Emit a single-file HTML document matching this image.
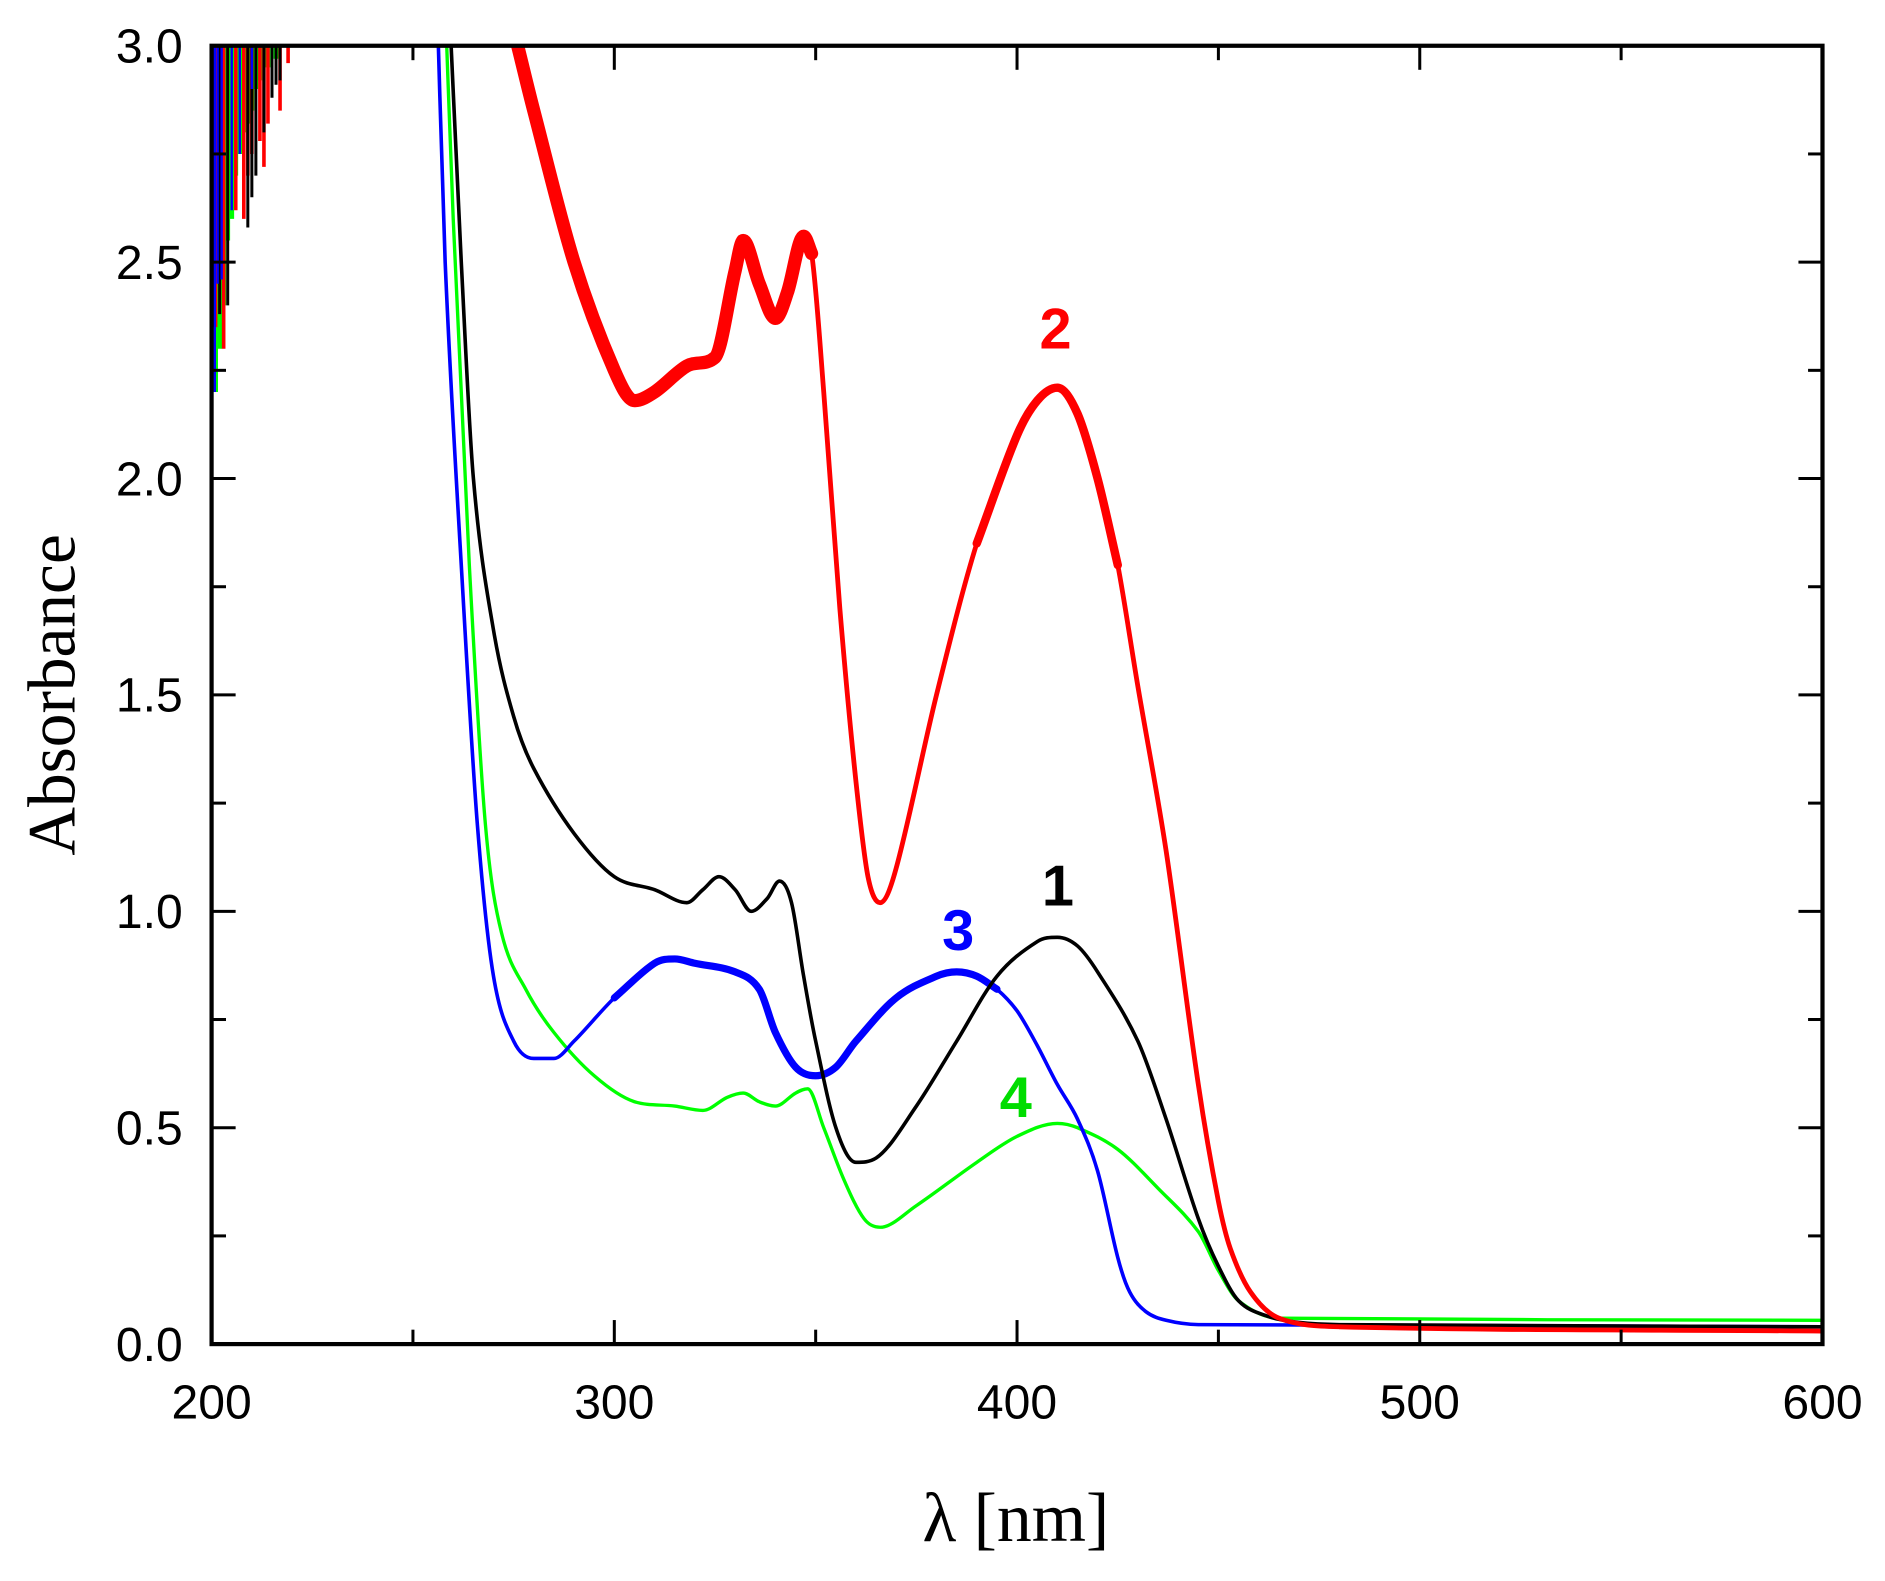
<!DOCTYPE html>
<html><head><meta charset="utf-8"><style>
html,body{margin:0;padding:0;background:#fff;}
svg{display:block;}
</style></head><body>
<svg id="chart" width="1885" height="1581" viewBox="0 0 1568 1315" xmlns="http://www.w3.org/2000/svg">
<defs><clipPath id="pc"><rect x="176" y="38" width="1340" height="1080"/></clipPath></defs>
<g id="series" clip-path="url(#pc)"></g>
<g id="axes"></g>
<text transform="translate(62,578) rotate(-90)" text-anchor="middle" font-family="Liberation Serif, serif" font-size="56">Absorbance</text>
<text x="845" y="1282" text-anchor="middle" font-family="Liberation Serif, serif" font-size="58">λ [nm]</text>
<text x="878" y="290" text-anchor="middle" font-family="Liberation Sans, sans-serif" font-weight="bold" font-size="48" fill="#ff0000">2</text>
<text x="880" y="753" text-anchor="middle" font-family="Liberation Sans, sans-serif" font-weight="bold" font-size="48" fill="#000">1</text>
<text x="797" y="790" text-anchor="middle" font-family="Liberation Sans, sans-serif" font-weight="bold" font-size="48" fill="#0000ff">3</text>
<text x="845" y="929" text-anchor="middle" font-family="Liberation Sans, sans-serif" font-weight="bold" font-size="48" fill="#00dd00">4</text>
</svg>
<script>
const xTicks=[200,300,400,500,600];
const yTicks=[0.0,0.5,1.0,1.5,2.0,2.5,3.0];
const yTickLabels=["0.0","0.5","1.0","1.5","2.0","2.5","3.0"];
const redX=[276,280,290,300,305,310,318,325,330,332,336,340,343,347,349,352,356,360,363,366,370,380,390,400,405,410,415,420,425,430,437,445,450,453,458,465,480,600];
const redY=[3.0,2.85,2.5,2.25,2.18,2.2,2.26,2.28,2.48,2.55,2.45,2.37,2.43,2.56,2.52,2.2,1.7,1.3,1.08,1.02,1.1,1.5,1.85,2.1,2.18,2.21,2.15,2.0,1.8,1.52,1.14,0.6,0.33,0.22,0.12,0.06,0.04,0.03];
const blackX=[259,262,265,270,275,280,290,300,310,318,322,326,330,334,338,341,344,347,350,355,360,365,375,385,395,405,410,415,420,430,437,445,450,455,462,470,480,600];
const blackY=[3.1,2.5,2.0,1.65,1.45,1.33,1.18,1.08,1.05,1.02,1.05,1.08,1.05,1.0,1.03,1.07,1.02,0.85,0.7,0.5,0.42,0.43,0.55,0.7,0.85,0.93,0.94,0.92,0.86,0.7,0.52,0.29,0.18,0.1,0.065,0.05,0.045,0.04];
const blueX=[256,258,262,266,270,275,280,285,290,300,310,315,320,330,336,340,345,350,355,360,370,380,385,390,395,400,405,410,415,420,425,428,432,437,445,600];
const blueY=[3.1,2.5,1.8,1.2,0.85,0.7,0.66,0.66,0.7,0.8,0.88,0.89,0.88,0.86,0.82,0.72,0.64,0.62,0.64,0.7,0.8,0.85,0.86,0.85,0.82,0.77,0.69,0.6,0.52,0.4,0.2,0.12,0.075,0.055,0.045,0.04];
const greenX=[258,260,264,268,272,278,285,295,305,315,322,328,332,336,340,345,348,352,357,362,366,375,390,400,410,415,425,435,445,450,455,465,600];
const greenY=[3.1,2.6,1.8,1.2,0.95,0.82,0.72,0.62,0.56,0.55,0.54,0.57,0.58,0.56,0.55,0.58,0.59,0.5,0.38,0.29,0.27,0.32,0.42,0.48,0.51,0.5,0.45,0.36,0.26,0.17,0.1,0.06,0.055];
// noise spikes near 200 nm: wavelength and lowest absorbance reached
const noiseGreenX=[201,202,203,204,205,206,207,208,209,210,211,212,214,216];
const noiseGreenY=[2.2,2.3,2.4,2.55,2.6,2.7,2.75,2.8,2.82,2.85,2.9,2.92,2.95,2.97];
const noiseRedX=[201,203,206,208,209,210,212,213,214,217,219];
const noiseRedY=[2.35,2.3,2.62,2.6,2.7,2.75,2.78,2.72,2.82,2.85,2.96];
const noiseBlackX=[200.5,202,204,209,210,211,213,215,216,217];
const noiseBlackY=[2.35,2.38,2.4,2.58,2.65,2.7,2.8,2.88,2.91,2.92];
const noiseBlueX=[200.8,201.5,202.5,205,207,210];
const noiseBlueY=[2.2,2.45,2.46,2.62,2.75,2.9];

const X=v=>176+(v-200)*1340/400;
const Y=v=>1118-v*360;
const NS="http://www.w3.org/2000/svg";
const sg=document.getElementById('series');
const ax=document.getElementById('axes');
function mk(tag,attrs,parent){const e=document.createElementNS(NS,tag);for(const k in attrs)e.setAttribute(k,attrs[k]);parent.appendChild(e);return e;}
function line(xs,ys,color,w,name,from,to){
  const pts=[];
  for(let i=0;i<xs.length;i++){if(from!==undefined&&(xs[i]<from||xs[i]>to))continue;pts.push([X(xs[i]),Y(ys[i])]);}
  const n=pts.length, m=[];
  for(let i=0;i<n;i++){
    const a=pts[Math.max(0,i-1)], b=pts[Math.min(n-1,i+1)];
    let s=(b[1]-a[1])/(b[0]-a[0]);
    // limit slope to avoid overshoot at local extrema
    if(i>0&&i<n-1){
      const s1=(pts[i][1]-pts[i-1][1])/(pts[i][0]-pts[i-1][0]);
      const s2=(pts[i+1][1]-pts[i][1])/(pts[i+1][0]-pts[i][0]);
      if(s1*s2<=0) s=0; else { const lim=3*Math.min(Math.abs(s1),Math.abs(s2)); if(Math.abs(s)>lim) s=Math.sign(s)*lim; }
    }
    m.push(s);
  }
  let d='M'+pts[0][0].toFixed(1)+','+pts[0][1].toFixed(1);
  for(let i=0;i<n-1;i++){
    const p1=pts[i],p2=pts[i+1],dx=(p2[0]-p1[0])/3;
    d+='C'+(p1[0]+dx).toFixed(1)+','+(p1[1]+m[i]*dx).toFixed(1)+' '+(p2[0]-dx).toFixed(1)+','+(p2[1]-m[i+1]*dx).toFixed(1)+' '+p2[0].toFixed(1)+','+p2[1].toFixed(1);
  }
  const p=mk('path',{d:d,fill:'none',stroke:color,'stroke-width':w,'stroke-linejoin':'round','stroke-linecap':'round'},sg);
  
  
}
function spikes(xs,ys,color,w,name){
  for(let i=0;i<xs.length;i++){
    const l=mk('line',{x1:X(xs[i]),x2:X(xs[i]),y1:Y(3),y2:Y(ys[i]),stroke:color,'stroke-width':w},sg);
    
    
  }
}
spikes(noiseGreenX,noiseGreenY,'#00ff00',4,'noise-spike-green');
spikes(noiseRedX,noiseRedY,'#ff0000',3,'noise-spike-red');
spikes(noiseBlackX,noiseBlackY,'#000',2.5,'noise-spike-black');
spikes(noiseBlueX,noiseBlueY,'#0000ff',2,'noise-spike-blue');
line(greenX,greenY,'#00ff00',2.8,'series-4-green');
line(blueX,blueY,'#0000ff',3,'series-3-blue');
line(blueX,blueY,'#0000ff',6,'series-3-blue-noisy',295,395);
line(blackX,blackY,'#000',3,'series-1-black');
line(redX,redY,'#ff0000',4,'series-2-red');
line(redX,redY,'#ff0000',11,'series-2-red-noisy',276,349);
line(redX,redY,'#ff0000',7,'series-2-red-peak',385,425);

const fr=mk('rect',{x:176,y:38,width:1340,height:1080,fill:'none',stroke:'#000','stroke-width':3.5},ax);

for(let v=200;v<=600;v+=50){
  const major=(v%100===0), len=major?20:12;
  mk('line',{x1:X(v),x2:X(v),y1:1118,y2:1118-len,stroke:'#000','stroke-width':2.5},ax);
  mk('line',{x1:X(v),x2:X(v),y1:38,y2:38+len,stroke:'#000','stroke-width':2.5},ax);
}
for(let k=0;k<=12;k++){
  const v=k*0.25, major=(k%2===0), len=major?20:12;
  mk('line',{x1:176,x2:176+len,y1:Y(v),y2:Y(v),stroke:'#000','stroke-width':2.5},ax);
  mk('line',{x1:1516,x2:1516-len,y1:Y(v),y2:Y(v),stroke:'#000','stroke-width':2.5},ax);
}
xTicks.forEach(v=>{
  const t=mk('text',{x:X(v),y:1180,'text-anchor':'middle','font-family':'Liberation Sans, sans-serif','font-size':40},ax);
  t.textContent=v;
  
  
});
yTicks.forEach((v,i)=>{
  const t=mk('text',{x:152,y:Y(v)+14,'text-anchor':'end','font-family':'Liberation Sans, sans-serif','font-size':40},ax);
  t.textContent=yTickLabels[i];
  
  
});
</script>
</body></html>
